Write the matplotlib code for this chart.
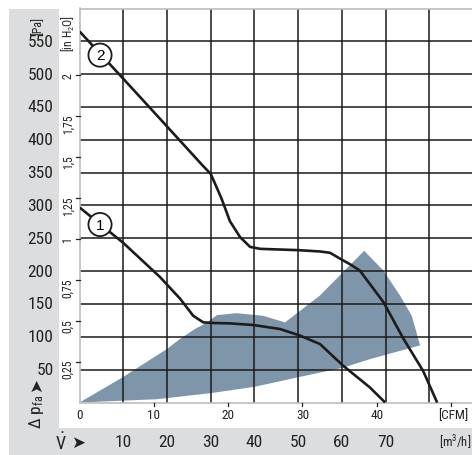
import matplotlib
matplotlib.use("Agg")
import matplotlib.pyplot as plt
from matplotlib.transforms import blended_transform_factory
from matplotlib.patches import Rectangle, Polygon

W, H = 472, 456
FONT = ['Roboto Condensed', 'DejaVu Sans']
plt.rcParams['font.family'] = FONT
plt.rcParams['mathtext.fontset'] = 'custom'
plt.rcParams['mathtext.rm'] = 'Roboto Condensed'
plt.rcParams['mathtext.it'] = 'Roboto Condensed:italic'
plt.rcParams['mathtext.bf'] = 'Roboto Condensed:bold'

# ---- data (m3/h, Pa) ----
curve1_flow = [0, 10, 18.4, 23.0, 26.0, 28.3, 31.0, 34.4, 39.7, 45.8, 50.4, 55.0, 60.3, 66.4, 69.9]
curve1_pa = [297, 243, 191, 158, 132, 122, 121, 120.5, 118, 112, 102, 89, 56, 23, 0]

curve2_flow = [0, 10, 18.4, 28.0, 30.0, 31.2, 32.5, 34.4, 36.7, 39.0, 41.3, 50.0, 55.0, 57.3, 59.6,
               62.0, 64.1, 69.5, 74.1, 78.6, 81.8]
curve2_pa = [565, 493, 432, 362, 348, 330, 310, 276, 252, 237, 234, 232, 230, 228, 219,
             210, 201, 153, 97, 48, 0]

area_flow = [0, 10, 20.1, 23.0, 26.4, 28.7, 31.4, 35.9, 42.0, 47.0, 55.0, 65.1,
             69.5, 73.3, 76.0, 77.9, 66.4, 60.3, 50.4, 40.1, 30.3, 17.7]
area_pa = [0, 39, 82, 97, 112, 120, 133, 136, 132, 122, 163, 231,
           201, 163, 132, 87, 66, 53, 39, 24, 14.5, 5]

pa_ticks = [50, 100, 150, 200, 250, 300, 350, 400, 450, 500, 550]
inh2o_ticks = [0.25, 0.5, 0.75, 1.0, 1.25, 1.5, 1.75, 2.0]
inh2o_labels = ['0,25', '0,5', '0,75', '1', '1,25', '1,5', '1,75', '2']
cfm_ticks = [0, 10, 20, 30, 40]
m3h_ticks = [10, 20, 30, 40, 50, 60, 70]
grid_m3h = [10, 20, 30, 40, 50, 60, 70, 80]

PA_PER_INH2O = 249.09
M3H_PER_CFM = 1.699

fig = plt.figure(figsize=(W / 100, H / 100), dpi=100)
fig.patch.set_facecolor('white')

GRAY = '#dcdddf'
# gray panels
fig.patches.append(Rectangle((9 / W, 0), 50 / W, 1 - 9.5 / H, transform=fig.transFigure,
                             facecolor=GRAY, edgecolor='none', zorder=-5))
fig.patches.append(Rectangle((9 / W, 0), 1 - 9 / W, 27 / H, transform=fig.transFigure,
                             facecolor=GRAY, edgecolor='none', zorder=-5))

x0, y0, y1 = 79.6, 403.5, 9.5
ax = fig.add_axes([x0 / W, (H - y0) / H, 1 - x0 / W, (y0 - y1) / H])
ax.set_xlim(0, (W - x0) / 4.371)
ax.set_ylim(0, 600)
ax.set_facecolor('white')
ax.spines['right'].set_visible(False)
for s in ['left', 'top', 'bottom']:
    ax.spines[s].set_color('#bdbdbd')
    ax.spines[s].set_linewidth(1.2)
ax.set_xticks([])
ax.set_yticks([])

GRID = '#1a1a1a'
for g in pa_ticks:
    ax.axhline(g, color=GRID, lw=1.1, zorder=2)
for g in grid_m3h:
    ax.axvline(g, color=GRID, lw=1.1, zorder=2)

ax.add_patch(Polygon(list(zip(area_flow, area_pa)), closed=True, facecolor='#7f96aa',
                     edgecolor='none', zorder=1.5))

ax.plot(curve1_flow, curve1_pa, color='#1c1c1c', lw=1.9, zorder=3, solid_capstyle='butt')
ax.plot(curve2_flow, curve2_pa, color='#1c1c1c', lw=1.9, zorder=3, solid_capstyle='butt')

for lab, (fx, fy) in [('1', (4.67, 271)), ('2', (4.67, 529))]:
    ax.text(fx, fy, lab, ha='center', va='center', fontsize=11, zorder=5,
            family=['Liberation Sans', 'DejaVu Sans'],
            bbox=dict(boxstyle='circle,pad=0.3', fc='white', ec='#1c1c1c', lw=1.3))

TXT = '#222222'
# left Pa labels
tr_y = blended_transform_factory(fig.transFigure, ax.transData)
for p in pa_ticks:
    ax.text(53.5 / W, p, str(p), transform=tr_y, ha='right', va='center',
            fontsize=12.5, color=TXT, clip_on=False)
ax.text(38 / W, 600 - 16 / 0.656, '[Pa]', transform=tr_y, rotation=90, ha='center',
        va='center', fontsize=8.5, color=TXT, clip_on=False)

# inH2O ticks and labels
for v, lab in zip(inh2o_ticks, inh2o_labels):
    pa = v * PA_PER_INH2O
    ax.plot([-4 / 4.371, 0], [pa, pa], color=TXT, lw=0.9, clip_on=False, zorder=4)
    ax.text(68 / W, pa + 4, lab, transform=tr_y, rotation=90, ha='center', va='top',
            fontsize=8.5, color=TXT, clip_on=False)
ax.text(68 / W, 600 - 5 / 0.656, '[in H$_2$O]', transform=tr_y, rotation=90, ha='center',
        va='top', fontsize=8.5, color=TXT, clip_on=False)

# CFM ticks and labels
tr_x = blended_transform_factory(ax.transData, fig.transFigure)
for c in cfm_ticks + [50]:
    if c > 0:
        ax.plot([c * M3H_PER_CFM] * 2, [0, -6], color=TXT, lw=0.9, clip_on=False, zorder=4)
for c in cfm_ticks:
    ax.text(c * M3H_PER_CFM, 1 - 416 / H, str(c), transform=tr_x, ha='center', va='center',
            fontsize=9.5, color=TXT, clip_on=False)
ax.text(50 * M3H_PER_CFM + 0.6, 1 - 416 / H, '[CFM]', transform=tr_x, ha='center',
        va='center', fontsize=9.5, color=TXT, clip_on=False)

# m3/h labels
for m in m3h_ticks:
    ax.text(m, 1 - 443 / H, str(m), transform=tr_x, ha='center', va='center',
            fontsize=12.5, color=TXT, clip_on=False)
fig.text(455 / W, 1 - 443 / H, '[m$^3$/h]', ha='center', va='center', fontsize=9,
         color=TXT)

# axis name texts
fig.text(61 / W, 1 - 443 / H, r'$\dot{\mathrm{V}}$', ha='center', va='center', fontsize=13,
         color=TXT)
fig.text(78 / W, 1 - 443 / H, '\u27a4', ha='center', va='center', fontsize=12,
         color=TXT, family=['DejaVu Sans'])
fig.text(36 / W, 1 - 385 / H, '\u27a4', ha='center', va='center', fontsize=12,
         color=TXT, rotation=90, family=['DejaVu Sans'])
fig.text(37 / W, 1 - 429 / H, 'Δ p$_{\\mathregular{fa}}$', ha='center', va='bottom',
         fontsize=12.5, color=TXT, rotation=90)

fig.savefig('out.png', dpi=100)
